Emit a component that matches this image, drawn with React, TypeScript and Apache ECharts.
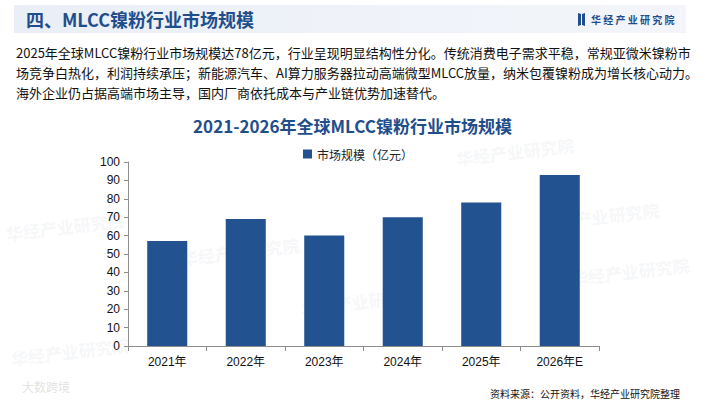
import React, { useEffect, useRef } from "react";
import * as echarts from "echarts";

const categories = ["2021年", "2022年", "2023年", "2024年", "2025年", "2026年E"];
const marketSize = [57, 69, 60, 70, 78, 93];
const seriesName = "市场规模（亿元）";
const yTicks = { min: 0, max: 100, interval: 10 };

const headerTitle = "四、MLCC镍粉行业市场规模";
const brand = "华 经 产 业 研 究 院";
const paragraphLines = [
  "2025年全球MLCC镍粉行业市场规模达78亿元，行业呈现明显结构性分化。传统消费电子需求平稳，常规亚微米镍粉市",
  "场竞争白热化，利润持续承压；新能源汽车、AI算力服务器拉动高端微型MLCC放量，纳米包覆镍粉成为增长核心动力。",
  "海外企业仍占据高端市场主导，国内厂商依托成本与产业链优势加速替代。",
];
const chartTitle = "2021-2026年全球MLCC镍粉行业市场规模";
const sourceText = "资料来源：公开资料，华经产业研究院整理";
const watermarkText = "华经产业研究院";

const CJK = "'Noto Sans CJK SC', 'Noto Sans', sans-serif";
const LATIN = "'Liberation Sans', Arial, 'Noto Sans CJK SC', sans-serif";
const BLUE = "#1f4e8c";
const BAR = "#22528f";

export default function App() {
  const ref = useRef<HTMLDivElement>(null);
  useEffect(() => {
    document.body.style.margin = "0";
    const chart = echarts.init(ref.current!, null, { renderer: "svg" });
    const marks = [
      [180, 250], [300, 300], [455, 150], [570, 270], [10, 350], [540, 215], [5, 225],
    ];
    const watermarks = marks.map(([x, y]) => ({
      type: "text",
      x,
      y,
      rotation: 0.12,
      z: -1,
      silent: true,
      style: {
        text: watermarkText,
        font: `bold 17px ${CJK}`,
        fill: "rgba(200,205,215,0.18)",
      },
    }));
    chart.setOption({
      animation: false,
      backgroundColor: "#ffffff",
      title: {
        text: chartTitle,
        left: "center",
        top: 112,
        textStyle: { fontFamily: CJK, fontSize: 17, fontWeight: "bold", color: BLUE },
      },
      legend: {
        data: [seriesName],
        top: 143,
        left: 298,
        itemWidth: 9,
        itemHeight: 9,
        itemGap: 5,
        icon: "rect",
        textStyle: { fontFamily: CJK, fontSize: 12, color: "#222" },
      },
      grid: { left: 128, right: 106, top: 162, bottom: 55, containLabel: false },
      xAxis: {
        type: "category",
        data: categories,
        axisLine: { lineStyle: { color: "#8c8c8c" } },
        axisTick: { show: true, alignWithLabel: false, length: 5, lineStyle: { color: "#8c8c8c" } },
        axisLabel: { fontFamily: LATIN, fontSize: 12, color: "#111", margin: 10 },
      },
      yAxis: {
        type: "value",
        min: yTicks.min,
        max: yTicks.max,
        interval: yTicks.interval,
        splitLine: { show: false },
        axisLine: { show: true, lineStyle: { color: "#8c8c8c" } },
        axisTick: { show: true, length: 4, lineStyle: { color: "#8c8c8c" } },
        axisLabel: { fontFamily: LATIN, fontSize: 12, color: "#111", margin: 8 },
      },
      series: [
        {
          name: seriesName,
          type: "bar",
          data: marketSize,
          barWidth: "51%",
          itemStyle: { color: BAR },
        },
      ],
      graphic: [
        ...watermarks,
        {
          type: "rect",
          shape: { x: 14, y: 5, width: 672, height: 28 },
          style: {
            fill: new echarts.graphic.LinearGradient(0, 0, 1, 0, [
              { offset: 0, color: "#eaeff7" },
              { offset: 1, color: "#f3f5fa" },
            ]),
          },
        },
        {
          type: "text",
          x: 26,
          y: 19,
          style: {
            text: headerTitle,
            font: `bold 18px ${CJK}`,
            fill: BLUE,
            textVerticalAlign: "middle",
          },
        },
        {
          type: "polygon",
          shape: { points: [[578, 13], [581, 14], [581, 25], [578, 26]] },
          style: { fill: BLUE },
        },
        {
          type: "polygon",
          shape: { points: [[582, 14], [585, 13], [585, 26], [582, 25]] },
          style: { fill: BLUE },
        },
        {
          type: "text",
          x: 591,
          y: 19,
          style: {
            text: brand,
            font: `bold 10px ${CJK}`,
            fill: BLUE,
            textVerticalAlign: "middle",
          },
        },
        ...paragraphLines.map((line, i) => ({
          type: "text",
          x: 16,
          y: 52 + i * 20,
          style: {
            text: line,
            font: `13px ${CJK}`,
            fill: "#111",
            textVerticalAlign: "middle",
          },
        })),
        {
          type: "text",
          x: 680,
          y: 393,
          style: {
            text: sourceText,
            font: `10px ${CJK}`,
            fill: "#111",
            textAlign: "right",
            textVerticalAlign: "middle",
          },
        },
        {
          type: "text",
          x: 22,
          y: 386,
          z: -1,
          style: {
            text: "大数跨境",
            font: `12px ${CJK}`,
            fill: "rgba(180,180,180,0.4)",
            textVerticalAlign: "middle",
          },
        },
      ],
    });
    return () => chart.dispose();
  }, []);
  return (
    <div
      ref={ref}
      style={{ position: "fixed", left: 0, top: 0, width: 705, height: 401 }}
    />
  );
}
